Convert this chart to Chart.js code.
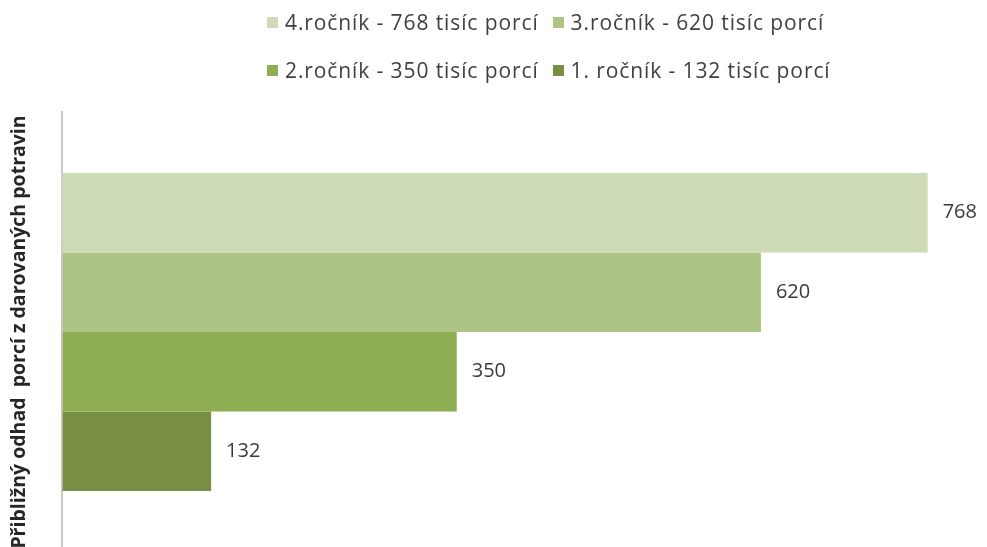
<!DOCTYPE html>
<html>
<head>
<meta charset="utf-8">
<script src="https://cdn.jsdelivr.net/npm/chart.js@4/dist/chart.umd.min.js"></script>
<style>
  html, body { margin: 0; padding: 0; background: #fff; overflow: hidden; }
  #wrap { position: relative; width: 987px; height: 547px; overflow: hidden; }
  #chart { position: absolute; left: 0; top: 0; }
  .legend-row {
    position: absolute; left: 267px; display: flex; align-items: center;
    font-family: "Open Sans", sans-serif; font-size: 21px; line-height: 26px;
    letter-spacing: 0.9px; color: #404040;
  }
  .legend-item { display: flex; align-items: center; margin-right: 14px; white-space: pre; }
  .legend-box { width: 11px; height: 11px; margin-right: 7px; }
</style>
</head>
<body>
<div id="wrap">
  <canvas id="chart" width="987" height="552"></canvas>
</div>
<script>
// one category, four yearly series
const categories = [''];
const seriesLabels = [
  '4.ročník - 768 tisíc porcí',
  '3.ročník - 620 tisíc porcí',
  '2.ročník - 350 tisíc porcí',
  '1. ročník - 132 tisíc porcí'
];
const seriesValues = [768, 620, 350, 132];
const seriesColors = ['#cddab6', '#adc584', '#8fad52', '#788e42'];
const axisTitle = 'Přibližný odhad  porcí z darovaných potravin';

// legend: two rows of two items above the plot
const wrap = document.getElementById('wrap');
[[0, 1], [2, 3]].forEach((idx, r) => {
  const row = document.createElement('div');
  row.className = 'legend-row';
  row.style.top = (9 + r * 48) + 'px';
  idx.forEach(i => {
    const item = document.createElement('div');
    item.className = 'legend-item';
    const box = document.createElement('span');
    box.className = 'legend-box';
    box.style.background = seriesColors[i];
    item.appendChild(box);
    item.appendChild(document.createTextNode(seriesLabels[i]));
    row.appendChild(item);
  });
  wrap.appendChild(row);
});

// value text to the right of each bar
const valueLabels = {
  id: 'valueLabels',
  afterDatasetsDraw(chart) {
    const ctx = chart.ctx;
    ctx.save();
    ctx.font = '20px "Open Sans", sans-serif';
    ctx.fillStyle = '#3a3a3a';
    ctx.textBaseline = 'middle';
    chart.data.datasets.forEach((ds, i) => {
      chart.getDatasetMeta(i).data.forEach((bar, j) => {
        ctx.fillText(String(ds.data[j]), bar.x + 15, bar.y);
      });
    });
    ctx.restore();
  }
};

new Chart(document.getElementById('chart'), {
  type: 'bar',
  data: {
    labels: categories,
    datasets: seriesValues.map((v, i) => ({
      label: seriesLabels[i],
      data: [v],
      backgroundColor: seriesColors[i],
      borderWidth: 0,
      categoryPercentage: 0.723,
      barPercentage: 1
    }))
  },
  options: {
    indexAxis: 'y',
    responsive: false,
    animation: false,
    layout: { padding: { top: 112, right: 12, left: 6, bottom: 0 } },
    plugins: {
      legend: { display: false },
      tooltip: { enabled: false }
    },
    scales: {
      x: { display: false, min: 0, max: 810 },
      y: {
        grid: { display: false, drawTicks: false },
        border: { display: true, color: '#c8c8c8', width: 2 },
        ticks: { display: false },
        title: {
          display: true,
          text: axisTitle,
          color: '#262626',
          font: { family: '"Open Sans", sans-serif', size: 19.5, weight: 'bold' },
          padding: { top: 2, bottom: 31 }
        }
      }
    }
  },
  plugins: [valueLabels]
});
</script>
</body>
</html>
